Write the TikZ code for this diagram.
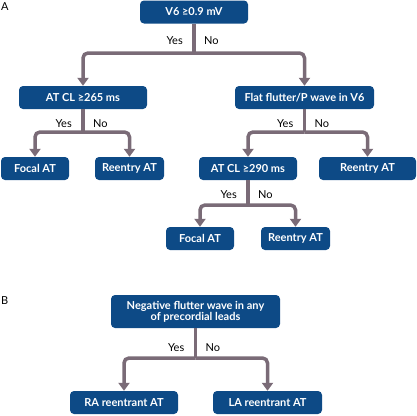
\documentclass[tikz,border=0pt]{standalone}
\usepackage{fontspec}
\setmainfont{Lato}
\usetikzlibrary{arrows.meta}
\definecolor{boxblue}{HTML}{0D4A86}
\definecolor{linec}{HTML}{7A6B77}
\begin{document}
\begin{tikzpicture}[x=1pt,y=-1pt,
 box/.style={fill=boxblue, rounded corners=4pt, text=white, font=\bfseries\fontsize{11}{13}\selectfont, minimum height=23pt, inner sep=0pt, align=center},
 conn/.style={draw=linec, line width=3.5pt, rounded corners=5pt, -{Triangle[width=11pt,length=8pt]}},
 stemline/.style={draw=linec, line width=3.5pt},
 lbl/.style={font=\fontsize{11}{13}\selectfont, inner sep=0pt},
 panel/.style={font=\fontsize{11}{13}\selectfont, inner sep=0pt, anchor=west}]
\useasboundingbox (0,0) rectangle (417,415);
\node[panel] (pa) at (1,7) {A};
\node[panel] (pb) at (1,301) {B};
% panel A boxes
\node[box, minimum width=108pt] (v6) at (194,12) {V6 ≥0.9 mV};
\node[box, minimum width=128pt] (at265) at (83,97.5) {AT CL ≥265 ms};
\node[box, minimum width=139pt] (flat) at (304.5,97.5) {Flat flutter/P wave in V6};
\node[box, minimum width=68pt] (focal1) at (35,168.5) {Focal AT};
\node[box, minimum width=69pt] (re1) at (129.5,168.5) {Reentry AT};
\node[box, minimum width=98pt] (at290) at (248,168.5) {AT CL ≥290 ms};
\node[box, minimum width=97pt] (re2) at (367.5,168.5) {Reentry AT};
\node[box, minimum width=68pt] (focal2) at (200,238.5) {Focal AT};
\node[box, minimum width=69pt] (re3) at (295.5,238.5) {Reentry AT};
% panel B boxes
\node[box, minimum width=169pt, minimum height=33pt] (neg) at (195.5,311.5) {Negative flutter wave in any\\[-2pt]of precordial leads};
\node[box, minimum width=108pt] (ra) at (124,402.5) {RA reentrant AT};
\node[box, minimum width=109pt] (la) at (267.5,402.5) {LA reentrant AT};
% junctions
\coordinate (j1) at (194,53);
\coordinate (j2) at (83,132);
\coordinate (j3) at (304.5,132);
\coordinate (j4) at (248,205);
\coordinate (j5) at (195.5,358);
% connectors
\draw[stemline] (v6.south) -- (j1);
\draw[conn] (j1) -| (at265.north);
\draw[conn] (j1) -| (flat.north);
\draw[stemline] (at265.south) -- (j2);
\draw[conn] (j2) -| (focal1.north);
\draw[conn] (j2) -| (re1.north);
\draw[stemline] (flat.south) -- (j3);
\draw[conn] (j3) -| (at290.north);
\draw[conn] (j3) -| (re2.north);
\draw[stemline] (at290.south) -- (j4);
\draw[conn] (j4) -| (focal2.north);
\draw[conn] (j4) -| (re3.north);
\draw[stemline] (neg.south) -- (j5);
\draw[conn] (j5) -| (ra.north);
\draw[conn] (j5) -| (la.north);
% labels
\node[lbl, anchor=east] (y1) at (183,41) {Yes};
\node[lbl, anchor=west] (n1) at (204,41) {No};
\node[lbl, anchor=east] (y2) at (72,124) {Yes};
\node[lbl, anchor=west] (n2) at (93,124) {No};
\node[lbl, anchor=east] (y3) at (293.5,124) {Yes};
\node[lbl, anchor=west] (n3) at (314.5,124) {No};
\node[lbl, anchor=east] (y4) at (237,195) {Yes};
\node[lbl, anchor=west] (n4) at (258,195) {No};
\node[lbl, anchor=east] (y5) at (184.5,348) {Yes};
\node[lbl, anchor=west] (n5) at (205.5,348) {No};
\end{tikzpicture}
\end{document}
